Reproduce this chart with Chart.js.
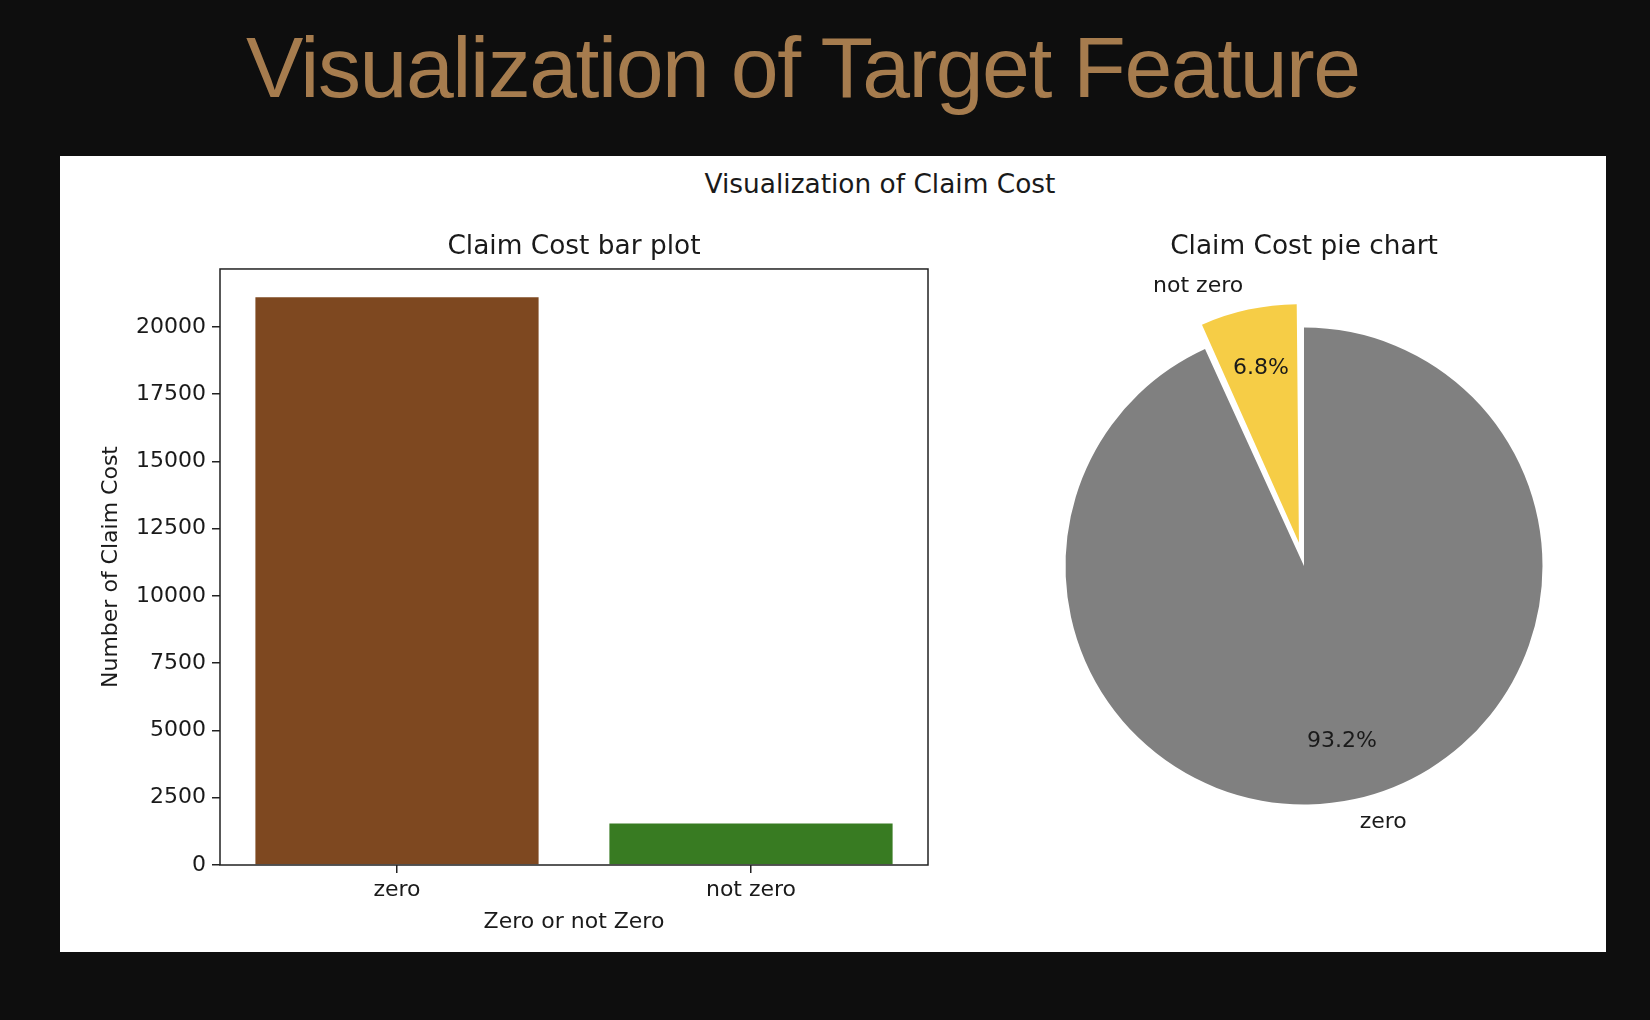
<!DOCTYPE html>
<html>
<head>
<meta charset="utf-8">
<title>Visualization of Target Feature</title>
<script src="https://cdn.jsdelivr.net/npm/chart.js@4.4.1/dist/chart.umd.min.js"></script>
<style>
  html, body { margin: 0; padding: 0; width: 1650px; height: 1020px; background: #0e0e0e; overflow: hidden; }
  #mainTitle {
    position: absolute; left: 246px; top: 24px; margin: 0;
    font-family: "Liberation Sans", Arial, sans-serif; font-weight: normal;
    font-size: 86px; line-height: 86px; letter-spacing: -1.45px;
    color: #a67c4e; white-space: nowrap;
  }
  #panel { position: absolute; left: 60px; top: 156px; width: 1546px; height: 796px; background: #fff; }
  #figTitle {
    position: absolute; left: 620px; top: 12px; width: 400px; text-align: center;
    font-family: "DejaVu Sans", sans-serif; font-size: 26.4px; line-height: 32px; color: #1a1a1a;
  }
  #barCanvas { position: absolute; left: 0; top: 0; }
  #pieCanvas { position: absolute; left: 900px; top: 0; }
</style>
</head>
<body>
<h1 id="mainTitle">Visualization of Target Feature</h1>
<div id="panel">
  <div id="figTitle">Visualization of Claim Cost</div>
  <canvas id="barCanvas" width="900" height="796"></canvas>
  <canvas id="pieCanvas" width="646" height="796"></canvas>
</div>
<script>
// --- data ---
const categories = ['zero', 'not zero'];
const claimCounts = [21098, 1542];
const barColors = ['#7e4820', '#387b22'];
const pieColors = ['#808080', '#f6cd46'];
const explode = [0, 0.1];          // share of the radius, like matplotlib
const yTicks = [0, 2500, 5000, 7500, 10000, 12500, 15000, 17500, 20000];

const mplFont = '"DejaVu Sans", sans-serif';
const textColor = '#1a1a1a';
const axisColor = '#222';
const pieRadius = 238.5;

// matplotlib draws a full box round the axes
const axesBox = {
    id: 'axesBox',
    afterDatasetsDraw(chart) {
        const { ctx, chartArea: a } = chart;
        ctx.save();
        ctx.strokeStyle = axisColor;
        ctx.lineWidth = 1.5;
        ctx.strokeRect(a.left, a.top, a.right - a.left, a.bottom - a.top);
        ctx.restore();
    }
};

new Chart(document.getElementById('barCanvas'), {
    type: 'bar',
    data: {
        labels: categories,
        datasets: [{
            data: claimCounts,
            backgroundColor: barColors,
            borderWidth: 0,
            categoryPercentage: 0.8,
            barPercentage: 1.0
        }]
    },
    options: {
        responsive: false,
        animation: false,
        layout: { padding: { left: 0, right: 32, top: 0, bottom: 0 } },
        plugins: {
            legend: { display: false },
            tooltip: { enabled: false },
            title: {
                display: true,
                text: 'Claim Cost bar plot',
                fullSize: false,
                color: textColor,
                font: { family: mplFont, size: 26.4, weight: 'normal', lineHeight: 1.2 },
                padding: { top: 75.2, bottom: 6.1 }
            }
        },
        scales: {
            x: {
                offset: true,
                grid: { offset: false, drawOnChartArea: false, drawTicks: true, tickLength: 8, color: axisColor, lineWidth: 1.5 },
                border: { display: false },
                ticks: { color: textColor, font: { family: mplFont, size: 22 }, padding: 4 },
                title: {
                    display: true, text: 'Zero or not Zero', color: textColor,
                    font: { family: mplFont, size: 22 }, padding: { top: 0, bottom: 17 }
                },
                afterFit(scale) { scale.height = 87; }
            },
            y: {
                min: 0,
                max: Math.max(...claimCounts) * 1.05,   // matplotlib's 5% headroom
                grid: { drawOnChartArea: false, drawTicks: true, tickLength: 8, color: axisColor, lineWidth: 1.5 },
                border: { display: false },
                ticks: {
                    color: textColor, font: { family: mplFont, size: 22 }, padding: 6,
                    callback: v => String(v)
                },
                afterBuildTicks(scale) { scale.ticks = yTicks.map(v => ({ value: v })); },
                title: {
                    display: true, text: 'Number of Claim Cost', color: textColor,
                    font: { family: mplFont, size: 22 }, padding: { top: 38.5, bottom: 0 }
                },
                afterFit(scale) { scale.width = 160; }
            }
        }
    },
    plugins: [axesBox]
});

// Chart.js moves an offset arc by offset/4 and also grows it; keep the radius like matplotlib
const explodeFix = {
    id: 'explodeFix',
    afterDatasetsUpdate(chart) {
        chart.getDatasetMeta(0).data.forEach(arc => {
            const shift = (arc.options.offset || 0) / 4;
            const fix = 1 - Math.sin(Math.min(Math.PI, arc.circumference));
            arc.outerRadius = pieRadius - shift * fix;
        });
    }
};

// names outside, percentages inside (autopct)
const pieLabels = {
    id: 'pieLabels',
    afterDatasetsDraw(chart) {
        const { ctx } = chart;
        const total = claimCounts.reduce((s, v) => s + v, 0);
        ctx.save();
        ctx.font = '22px ' + mplFont;
        ctx.fillStyle = textColor;
        ctx.textBaseline = 'middle';
        chart.getDatasetMeta(0).data.forEach((arc, i) => {
            const mid = (arc.startAngle + arc.endAngle) / 2;
            const shift = (arc.options.offset || 0) / 4;
            const cx = arc.x + Math.cos(mid) * shift;
            const cy = arc.y + Math.sin(mid) * shift;
            ctx.textAlign = Math.cos(mid) > 0 ? 'left' : 'right';
            ctx.fillText(categories[i], cx + Math.cos(mid) * pieRadius * 1.1, cy + Math.sin(mid) * pieRadius * 1.1);
            ctx.textAlign = 'center';
            const pct = (claimCounts[i] / total * 100).toFixed(1) + '%';
            ctx.fillText(pct, cx + Math.cos(mid) * pieRadius * 0.75, cy + Math.sin(mid) * pieRadius * 0.75);
        });
        ctx.restore();
    }
};

new Chart(document.getElementById('pieCanvas'), {
    type: 'pie',
    data: {
        labels: categories,
        datasets: [{
            data: claimCounts,
            backgroundColor: pieColors,
            borderWidth: 0,
            radius: pieRadius,
            offset: ctx => explode[ctx.dataIndex] * pieRadius * 4
        }]
    },
    options: {
        responsive: false,
        animation: false,
        radius: pieRadius,
        layout: { padding: { left: 64, right: 22, top: 0, bottom: 96 } },
        plugins: {
            legend: { display: false },
            tooltip: { enabled: false },
            title: {
                display: true,
                text: 'Claim Cost pie chart',
                fullSize: false,
                color: textColor,
                font: { family: mplFont, size: 26.4, weight: 'normal', lineHeight: 1.2 },
                padding: { top: 75.2, bottom: 13.1 }
            }
        }
    },
    plugins: [explodeFix, pieLabels]
});
</script>
</body>
</html>
